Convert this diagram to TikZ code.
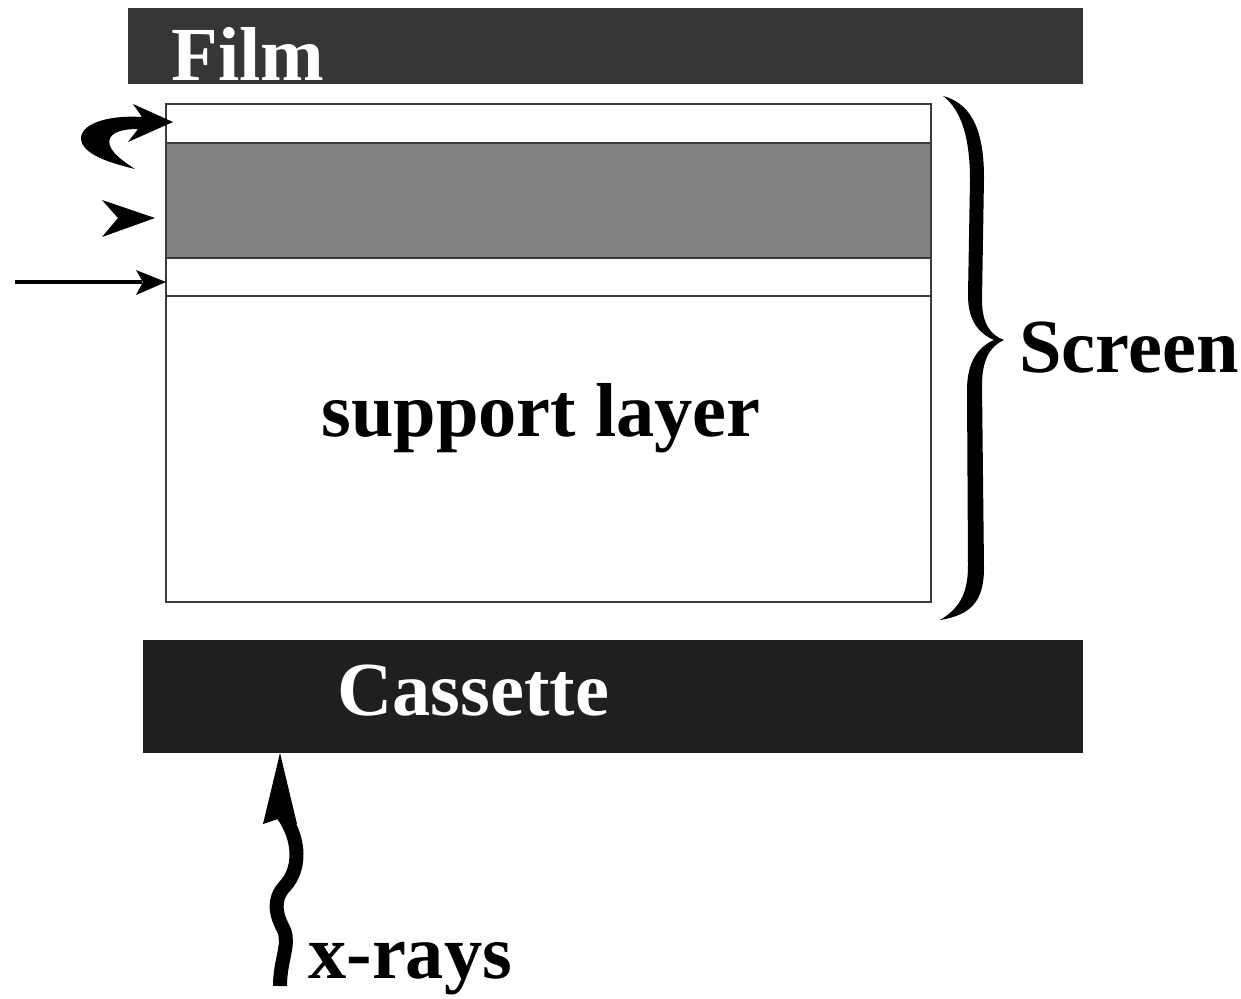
\documentclass[tikz,border=0pt]{standalone}
\usepackage{fontspec}
\setmainfont{Liberation Serif}
\definecolor{filmgray}{HTML}{363636}
\definecolor{casgray}{HTML}{1F1F1F}
\definecolor{midgray}{HTML}{828282}
\definecolor{edgegray}{HTML}{3C3C3C}
\tikzset{
  lbl/.style={inner sep=0pt, anchor=base west, font=\bfseries\fontsize{43.5}{50}\selectfont},
  layer/.style={draw=edgegray, line width=0.03cm},
  ink/.style={fill=black, draw=none}
}
\begin{document}
\begin{tikzpicture}[x=0.02cm, y=-0.02cm]
\useasboundingbox (0,0) rectangle (1241,998);
% Film bar
\fill[filmgray] (128,8) rectangle (1083,84);
\node[lbl, text=white] (film) at (171,80) {Film};
% screen layers
\filldraw[layer, fill=white] (166,104) rectangle (931,143);
\filldraw[layer, fill=midgray] (166,143) rectangle (931,258);
\filldraw[layer, fill=white] (166,258) rectangle (931,296);
\filldraw[layer, fill=white] (166,296) rectangle (931,602);
\node[lbl] (support) at (321,436) {support layer};
% Cassette bar
\fill[casgray] (143,640) rectangle (1083,753);
\node[lbl, text=white] (cassette) at (337,715) {Cassette};
% Brace
\fill[ink] (943,96) .. controls (974,104) and (984,135) .. (984,178)
  -- (982,300) .. controls (982,323) and (990,335) .. (1004,340)
  .. controls (990,346) and (982,360) .. (982,385)
  -- (984,568) .. controls (984,600) and (972,615) .. (940,620)
  .. controls (962,607) and (968,590) .. (968,565)
  -- (967,390) .. controls (967,362) and (978,347) .. (994,340)
  .. controls (978,333) and (968,320) .. (968,295)
  -- (970,180) .. controls (970,140) and (962,110) .. (943,96) -- cycle;
\node[lbl] (screen) at (1019,372) {Screen};
% Curved arrow
\fill[ink] (173,122) -- (133,104) -- (142,117)
  .. controls (112,115) and (82,122) .. (81,138)
  .. controls (81,154) and (110,163) .. (135,169)
  .. controls (118,158) and (106,148) .. (110,138)
  .. controls (114,131) and (125,129) .. (138,129)
  -- (128,142) -- cycle;
% Arrowhead only
\fill[ink] (155,218) -- (102,200) -- (118,218) -- (102,237) -- cycle;
% Straight arrow
\coordinate (sa) at (15,282);
\coordinate (sb) at (142,282);
\draw[line width=0.09cm] (sa) -- (sb);
\fill[ink] (166,282) -- (136,270) -- (143,282) -- (136,295) -- cycle;
% X-ray wavy arrow
\coordinate (xa) at (280,986);
\coordinate (xb) at (281,812);
\draw[line width=0.28cm] (xa) .. controls (280,960) and (290,945) .. (284,930)
  .. controls (276,915) and (272,900) .. (285,886)
  .. controls (300,870) and (302,840) .. (xb);
\fill[ink] (280,753) -- (297,824) -- (281,818) -- (263,824) -- cycle;
\node[lbl] (xrays) at (308,978) {x-rays};
\end{tikzpicture}
\end{document}
